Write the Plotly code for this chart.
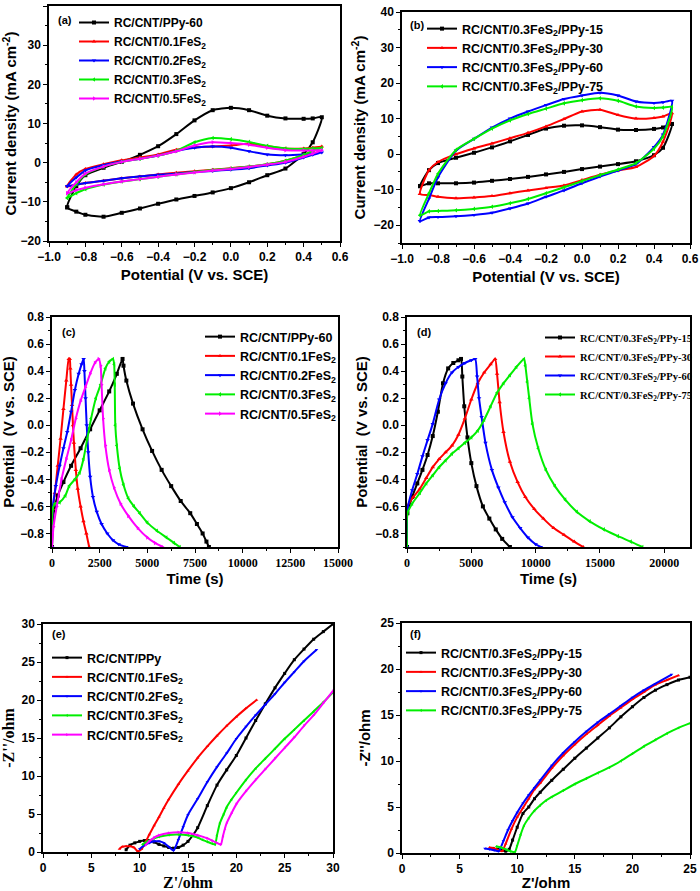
import plotly.graph_objects as go

# ---------------- data ----------------
# (a) CV, FeS2 content
cv_fwd = [-0.9, -0.85, -0.8, -0.7, -0.6, -0.5, -0.4, -0.3, -0.2, -0.1, 0.0, 0.1, 0.2, 0.3, 0.4, 0.45, 0.5]
cv_rev = [0.45, 0.4, 0.3, 0.2, 0.1, 0.0, -0.1, -0.2, -0.3, -0.4, -0.5, -0.6, -0.7, -0.8, -0.85, -0.9]
cv_pot = cv_fwd + cv_rev

a_names = ["RC/CNT/PPy-60", "RC/CNT/0.1FeS<sub>2</sub>", "RC/CNT/0.2FeS<sub>2</sub>",
           "RC/CNT/0.3FeS<sub>2</sub>", "RC/CNT/0.5FeS<sub>2</sub>"]
a_ppy60 = [-11.4, -6.0, -3.2, -1.3, 0.2, 2.0, 4.2, 7.3, 10.8, 13.4, 14.0, 13.4, 12.0, 11.3, 11.2, 11.3, 11.6,
           5.2, 2.2, -1.5, -3.2, -5.0, -6.5, -7.6, -8.5, -9.4, -10.5, -11.7, -12.8, -13.8, -13.3, -12.5, -11.4]
a_fes01 = [-6.0, -3.0, -1.6, -0.4, 0.6, 1.3, 2.1, 3.3, 3.9, 4.1, 4.4, 4.8, 4.2, 3.6, 3.6, 3.8, 4.1,
           3.0, 2.0, 0.5, -0.4, -1.0, -1.4, -1.8, -2.2, -2.6, -3.0, -3.5, -4.0, -4.6, -5.2, -5.6, -6.0]
a_fes02 = [-6.0, -3.8, -2.0, -0.6, 0.3, 1.0, 1.8, 3.0, 3.8, 4.1, 3.8, 2.9, 2.1, 1.9, 2.1, 2.3, 2.6,
           2.0, 1.3, 0.0, -0.7, -1.4, -1.8, -2.1, -2.4, -2.8, -3.1, -3.5, -4.0, -4.6, -5.2, -5.6, -6.0]
a_fes03 = [-9.0, -5.5, -3.0, -1.0, 0.2, 1.0, 1.8, 3.0, 5.2, 6.3, 6.0, 5.3, 4.3, 3.6, 3.5, 3.6, 3.8,
           3.0, 2.0, 0.5, -0.4, -1.0, -1.5, -1.9, -2.4, -3.0, -3.6, -4.2, -4.8, -5.6, -6.8, -7.8, -9.0]
a_fes05 = [-7.8, -5.0, -2.8, -1.0, 0.2, 1.0, 1.8, 2.9, 4.4, 5.2, 5.0, 4.6, 3.8, 3.2, 3.1, 3.1, 3.2,
           2.3, 1.5, 0.2, -0.5, -1.1, -1.6, -2.0, -2.5, -3.0, -3.6, -4.2, -4.8, -5.5, -6.4, -7.0, -7.8]

# (b) CV, PPy deposition time
b_names = ["RC/CNT/0.3FeS<sub>2</sub>/PPy-15", "RC/CNT/0.3FeS<sub>2</sub>/PPy-30",
           "RC/CNT/0.3FeS<sub>2</sub>/PPy-60", "RC/CNT/0.3FeS<sub>2</sub>/PPy-75"]
b_ppy15 = [-9.0, -4.5, -2.5, -1.0, 0.4, 1.9, 3.6, 5.4, 7.2, 8.0, 8.1, 7.6, 6.9, 6.8, 7.1, 7.5, 8.5,
           1.8, -0.3, -2.0, -2.8, -3.5, -4.2, -5.0, -5.7, -6.4, -7.0, -7.5, -8.0, -8.2, -8.2, -8.2, -9.0]
b_ppy30 = [-11.2, -4.5, -2.2, 0.0, 1.6, 3.0, 4.5, 6.0, 7.8, 9.9, 12.0, 12.5, 11.0, 10.0, 10.2, 10.6, 11.5,
           3.5, -0.5, -3.6, -4.6, -5.8, -7.3, -8.8, -9.5, -10.2, -11.0, -11.8, -12.2, -12.4, -12.0, -11.5, -11.2]
b_ppy60 = [-18.8, -12.5, -6.5, 1.0, 4.3, 7.5, 10.0, 12.0, 13.8, 15.5, 16.5, 17.3, 16.5, 14.8, 14.4, 14.6, 15.0,
           5.5, 2.0, -2.8, -4.6, -6.3, -8.2, -10.2, -12.0, -13.9, -15.3, -16.5, -17.1, -17.5, -17.7, -17.8, -18.8]
b_ppy75 = [-17.2, -11.0, -5.5, 1.2, 4.3, 7.2, 9.5, 11.3, 12.8, 14.3, 15.2, 15.7, 15.0, 13.4, 13.0, 13.1, 13.3,
           5.0, 1.5, -2.5, -4.3, -5.9, -7.6, -9.3, -11.0, -12.6, -13.8, -14.8, -15.4, -15.8, -16.0, -16.1, -17.2]

# (c) GCD, FeS2 content
c_names = ["RC/CNT/PPy-60", "RC/CNT/0.1FeS<sub>2</sub>", "RC/CNT/0.2FeS<sub>2</sub>",
           "RC/CNT/0.3FeS<sub>2</sub>", "RC/CNT/0.5FeS<sub>2</sub>"]
c_ppy60_t = [0, 50, 150, 300, 600, 1000, 1500, 2000, 2500, 3000, 3400, 3700, 3750, 3900, 4250, 4750, 5250, 5750,
             6250, 6750, 7250, 7600, 7900, 8100, 8230]
c_ppy60_v = [-0.9, -0.7, -0.6, -0.52, -0.42, -0.3, -0.17, -0.03, 0.11, 0.25, 0.38, 0.49, 0.44, 0.33, 0.16, -0.03,
             -0.19, -0.33, -0.45, -0.56, -0.65, -0.73, -0.8, -0.86, -0.9]
c_fes01_t = [0, 50, 150, 300, 450, 600, 750, 880, 930, 960, 1000, 1050, 1100, 1150, 1250, 1350, 1500, 1650, 1800, 1950]
c_fes01_v = [-0.9, -0.62, -0.5, -0.3, -0.1, 0.12, 0.33, 0.49, 0.49, 0.42, 0.3, 0.15, 0.0, -0.13, -0.33, -0.47,
             -0.6, -0.71, -0.8, -0.9]
c_fes02_t = [0, 50, 200, 400, 600, 800, 1000, 1200, 1400, 1550, 1660, 1700, 1760, 1820, 1900, 2000, 2150, 2350,
             2600, 2900, 3200, 3500, 3900]
c_fes02_v = [-0.9, -0.6, -0.45, -0.3, -0.17, -0.05, 0.1, 0.26, 0.38, 0.45, 0.49, 0.4, 0.2, 0.0, -0.2, -0.38,
             -0.53, -0.64, -0.73, -0.8, -0.85, -0.88, -0.9]
c_fes03_t = [0, 30, 150, 400, 700, 900, 1200, 1450, 1650, 1850, 2050, 2300, 2550, 2800, 3000, 3200, 3260, 3290,
             3320, 3400, 3550, 3750, 4000, 4300, 4600, 5000, 5500, 6000, 6400, 6700]
c_fes03_v = [-0.9, -0.62, -0.58, -0.57, -0.52, -0.45, -0.4, -0.35, -0.25, -0.1, 0.05, 0.2, 0.3, 0.42, 0.47, 0.49,
             0.45, 0.3, 0.0, -0.15, -0.32, -0.44, -0.54, -0.6, -0.65, -0.72, -0.78, -0.83, -0.87, -0.9]
c_fes05_t = [0, 80, 250, 500, 750, 1000, 1250, 1500, 1750, 2000, 2250, 2450, 2550, 2600, 2680, 2800, 3000, 3250,
             3600, 4000, 4500, 5000, 5400, 5800]
c_fes05_v = [-0.9, -0.75, -0.6, -0.4, -0.25, -0.11, 0.05, 0.18, 0.28, 0.38, 0.46, 0.49, 0.44, 0.3, 0.05, -0.15,
             -0.33, -0.46, -0.58, -0.67, -0.76, -0.83, -0.87, -0.9]

# (d) GCD, PPy deposition time
d_names = ["RC/CNT/0.3FeS<sub>2</sub>/PPy-15", "RC/CNT/0.3FeS<sub>2</sub>/PPy-30",
           "RC/CNT/0.3FeS<sub>2</sub>/PPy-60", "RC/CNT/0.3FeS<sub>2</sub>/PPy-75"]
d_ppy15_t = [0, 30, 400, 800, 1200, 1600, 2000, 2400, 2800, 3200, 3600, 4000, 4200, 4300, 4450, 4700, 5000, 5400,
             5900, 6400, 6900, 7400, 8000]
d_ppy15_v = [-0.9, -0.65, -0.53, -0.43, -0.33, -0.22, -0.08, 0.1, 0.31, 0.42, 0.46, 0.48, 0.49, 0.36, 0.14, -0.09,
             -0.28, -0.45, -0.6, -0.69, -0.77, -0.84, -0.9]
d_ppy30_t = [0, 30, 500, 1000, 1500, 2000, 2500, 3000, 3500, 4000, 4500, 5000, 5500, 6000, 6500, 6850, 7000, 7200,
             7500, 8000, 8600, 9200, 9900, 10600, 11400, 12200, 13000, 13700]
d_ppy30_v = [-0.9, -0.6, -0.53, -0.47, -0.39, -0.31, -0.25, -0.2, -0.15, -0.07, 0.05, 0.19, 0.31, 0.39, 0.45, 0.49,
             0.38, 0.17, -0.05, -0.27, -0.42, -0.53, -0.62, -0.69, -0.76, -0.81, -0.86, -0.9]
d_ppy60_t = [0, 30, 400, 800, 1200, 1600, 2000, 2500, 3000, 3500, 4000, 4500, 5000, 5300, 5450, 5600, 5800, 6100,
             6600, 7100, 7600, 8200, 8800, 9400, 10000, 10400]
d_ppy60_v = [-0.9, -0.62, -0.48, -0.36, -0.23, -0.11, 0.01, 0.19, 0.31, 0.39, 0.43, 0.46, 0.48, 0.49, 0.36, 0.2,
             0.06, -0.13, -0.33, -0.46, -0.57, -0.68, -0.76, -0.83, -0.88, -0.9]
d_ppy75_t = [0, 30, 400, 1000, 1500, 2000, 2500, 3000, 3500, 4000, 4500, 5000, 5500, 6000, 6500, 7000, 7500, 8000,
             8500, 9100, 9200, 9350, 9500, 9750, 10200, 10800, 11500, 12300, 13200, 14200, 15300, 16400, 17400, 18300]
d_ppy75_v = [-0.9, -0.65, -0.58, -0.5, -0.43, -0.37, -0.31, -0.26, -0.21, -0.17, -0.13, -0.09, -0.04, 0.04, 0.14,
             0.24, 0.31, 0.37, 0.43, 0.49, 0.44, 0.32, 0.2, 0.01, -0.17, -0.33, -0.45, -0.55, -0.64, -0.71, -0.77,
             -0.82, -0.86, -0.9]

# (e) Nyquist, FeS2 content
e_names = ["RC/CNT/PPy", "RC/CNT/0.1FeS<sub>2</sub>", "RC/CNT/0.2FeS<sub>2</sub>",
           "RC/CNT/0.3FeS<sub>2</sub>", "RC/CNT/0.5FeS<sub>2</sub>"]
e_ppy_re = [8.6, 9.0, 9.5, 10.0, 10.5, 11.0, 11.5, 12.0, 12.5, 13.0, 13.5, 14.0, 14.5, 15.0, 15.5, 16.0, 17.0, 18.0,
            19.0, 20.0, 21.0, 22.0, 23.0, 24.0, 25.0, 26.0, 27.0, 28.0, 29.0, 30.0]
e_ppy_im = [0.3, 0.9, 1.2, 1.4, 1.5, 1.5, 1.3, 1.0, 0.8, 0.6, 0.5, 0.6, 0.9, 1.4, 2.2, 3.2, 6.1, 8.8, 10.8, 12.7,
            15.0, 17.3, 19.5, 21.6, 23.5, 25.3, 26.7, 28.0, 29.0, 30.0]
e_fes01_re = [7.9, 8.2, 8.6, 9.0, 9.4, 9.8, 10.2, 10.6, 11.0, 11.5, 12.0, 12.5, 13.0, 14.0, 15.0, 16.0, 17.0, 18.0,
              19.0, 20.0, 21.0, 22.1]
e_fes01_im = [0.4, 0.7, 0.75, 0.75, 0.6, 0.1, 0.4, 1.3, 2.3, 3.5, 4.6, 5.8, 6.9, 8.9, 10.7, 12.4, 13.9, 15.3, 16.6,
              17.8, 18.9, 20.0]
e_fes02_re = [10.0, 10.5, 11.0, 11.5, 12.0, 12.5, 13.0, 13.5, 14.0, 14.5, 15.0, 16.0, 17.0, 18.0, 19.0, 20.0, 21.0,
              22.0, 23.0, 24.0, 25.0, 26.0, 27.0, 28.3]
e_fes02_im = [0.4, 0.9, 1.2, 1.4, 1.4, 1.2, 0.7, 0.2, 1.6, 3.3, 4.9, 7.0, 9.2, 11.2, 13.0, 14.9, 16.5, 18.0, 19.4,
              20.8, 22.3, 23.7, 25.1, 26.6]
e_fes03_re = [10.3, 10.8, 11.5, 12.0, 13.0, 14.0, 15.0, 16.0, 16.5, 17.0, 17.5, 17.8, 18.0, 18.3, 18.7, 19.0, 19.5,
              20.0, 21.0, 22.0, 23.0, 24.0, 25.0, 26.0, 27.0, 28.0, 29.0, 30.0]
e_fes03_im = [1.0, 1.4, 1.8, 2.0, 2.25, 2.3, 2.2, 1.9, 1.6, 1.35, 1.1, 1.0, 2.2, 3.8, 5.0, 5.9, 6.9, 7.8, 9.5, 11.0,
              12.3, 13.6, 14.9, 16.1, 17.3, 18.5, 19.7, 21.0]
e_fes05_re = [10.6, 11.0, 11.5, 12.0, 13.0, 14.0, 15.0, 16.0, 17.0, 17.5, 18.0, 18.4, 18.6, 18.8, 19.0, 19.5, 20.0,
              21.0, 22.0, 23.0, 24.0, 25.0, 26.0, 27.0, 28.0, 29.0, 30.0]
e_fes05_im = [0.9, 1.4, 1.9, 2.2, 2.5, 2.6, 2.5, 2.2, 1.8, 1.5, 1.2, 1.0, 2.0, 3.0, 3.8, 5.1, 6.3, 8.0, 9.5, 10.9,
              12.3, 13.7, 15.1, 16.6, 18.0, 19.6, 21.2]

# (f) Nyquist, PPy deposition time
f_names = ["RC/CNT/0.3FeS<sub>2</sub>/PPy-15", "RC/CNT/0.3FeS<sub>2</sub>/PPy-30",
           "RC/CNT/0.3FeS<sub>2</sub>/PPy-60", "RC/CNT/0.3FeS<sub>2</sub>/PPy-75"]
f_ppy15_re = [7.9, 8.3, 8.7, 9.0, 9.3, 9.6, 10.0, 10.5, 11.0, 11.5, 12.0, 13.0, 14.0, 15.0, 16.0, 17.0, 18.0, 19.0,
              20.0, 21.0, 22.0, 23.0, 24.0, 25.0]
f_ppy15_im = [0.5, 0.4, 0.3, 0.2, 0.4, 1.4, 2.8, 4.3, 5.0, 5.9, 6.6, 7.9, 9.1, 10.3, 11.4, 12.5, 13.6, 14.8, 15.9,
              16.9, 17.7, 18.3, 18.8, 19.1]
f_ppy30_re = [7.6, 8.0, 8.4, 8.7, 9.0, 9.5, 10.0, 10.5, 11.0, 11.5, 12.0, 13.0, 14.0, 15.0, 16.0, 17.0, 18.0, 19.0,
              20.0, 21.0, 22.0, 23.0, 24.0]
f_ppy30_im = [0.6, 0.5, 0.3, 0.2, 1.0, 2.6, 3.9, 4.9, 5.9, 6.9, 7.6, 9.2, 10.6, 11.8, 12.9, 13.9, 14.9, 15.8, 16.7,
              17.5, 18.3, 18.8, 19.3]
f_ppy60_re = [7.2, 7.6, 8.0, 8.4, 8.8, 9.2, 9.6, 10.0, 10.5, 11.0, 11.5, 12.0, 13.0, 14.0, 15.0, 16.0, 17.0, 18.0,
              19.0, 20.0, 21.0, 22.0, 23.4]
f_ppy60_im = [0.5, 0.4, 0.3, 0.2, 1.3, 2.5, 3.5, 4.4, 5.4, 6.3, 7.1, 7.9, 9.5, 10.9, 12.1, 13.2, 14.2, 15.1, 16.0,
              16.9, 17.7, 18.4, 19.4]
f_ppy75_re = [8.2, 8.6, 9.0, 9.4, 9.8, 10.0, 10.3, 10.6, 11.0, 11.5, 12.0, 12.5, 13.0, 14.0, 15.0, 16.0, 17.0, 18.0,
              19.0, 20.0, 21.0, 22.0, 23.0, 24.0, 25.0]
f_ppy75_im = [0.7, 0.6, 0.4, 0.2, 0.1, 0.8, 2.0, 3.0, 3.8, 4.6, 5.2, 5.7, 6.1, 6.8, 7.5, 8.1, 8.7, 9.3, 10.0, 10.8,
              11.6, 12.3, 13.0, 13.6, 14.1]

# ---------------- style ----------------
BLACK, RED, BLUE, GREEN, MAG = "#000000", "#ff0000", "#0000ff", "#00ee00", "#ff00ff"
SYM = ["square", "triangle-up", "triangle-down", "triangle-left", "triangle-right"]
SANS = "Liberation Sans, Arial, sans-serif"
SERIF = "Liberation Serif, Times New Roman, serif"

fig = go.Figure()


def add(xs, ys, name, color, sym, axis_id, legend_id, msize=4):
    xa = "x" if axis_id == 1 else f"x{axis_id}"
    ya = "y" if axis_id == 1 else f"y{axis_id}"
    fig.add_trace(go.Scatter(
        x=xs, y=ys, name=name, mode="lines+markers",
        line=dict(color=color, width=2, shape="spline", smoothing=0.6),
        marker=dict(symbol=sym, size=msize, color=color),
        xaxis=xa, yaxis=ya, legend=legend_id))


cols5 = [BLACK, RED, BLUE, GREEN, MAG]
cols4 = [BLACK, RED, BLUE, GREEN]

for ys, n, c, s in zip([a_ppy60, a_fes01, a_fes02, a_fes03, a_fes05], a_names, cols5, SYM):
    add(cv_pot, ys, n, c, s, 1, "legend")
for ys, n, c, s in zip([b_ppy15, b_ppy30, b_ppy60, b_ppy75], b_names, cols4, SYM):
    add(cv_pot, ys, n, c, s, 2, "legend2")
for (xs, ys), n, c, s in zip([(c_ppy60_t, c_ppy60_v), (c_fes01_t, c_fes01_v), (c_fes02_t, c_fes02_v),
                              (c_fes03_t, c_fes03_v), (c_fes05_t, c_fes05_v)], c_names, cols5, SYM):
    add(xs, ys, n, c, s, 3, "legend3")
for (xs, ys), n, c, s in zip([(d_ppy15_t, d_ppy15_v), (d_ppy30_t, d_ppy30_v), (d_ppy60_t, d_ppy60_v),
                              (d_ppy75_t, d_ppy75_v)], d_names, cols4, SYM):
    add(xs, ys, n, c, s, 4, "legend4")
for (xs, ys), n, c, s in zip([(e_ppy_re, e_ppy_im), (e_fes01_re, e_fes01_im), (e_fes02_re, e_fes02_im),
                              (e_fes03_re, e_fes03_im), (e_fes05_re, e_fes05_im)], e_names, cols5, SYM):
    add(xs, ys, n, c, s, 5, "legend5", 3)
for (xs, ys), n, c, s in zip([(f_ppy15_re, f_ppy15_im), (f_ppy30_re, f_ppy30_im), (f_ppy60_re, f_ppy60_im),
                              (f_ppy75_re, f_ppy75_im)], f_names, cols4, SYM):
    add(xs, ys, n, c, s, 6, "legend6", 3)


def axis(domain, rng, dtick, minor, title, tfont, ffont, tsize=15, standoff=6, fmt=None, tickvals=None):
    d = dict(domain=domain, range=rng, dtick=dtick, showline=True, linecolor="black", linewidth=1.5,
             mirror=True, ticks="outside", ticklen=4, tickwidth=1.2, tickcolor="black",
             showgrid=False, zeroline=False, automargin=False,
             minor=dict(ticks="outside", ticklen=2, tickwidth=1, tickcolor="black", dtick=minor),
             tickfont=dict(family=tfont, size=12, color="black", weight="bold"),
             title=dict(text=title, font=dict(family=ffont, size=tsize, color="black", weight="bold"),
                        standoff=standoff))
    if fmt:
        d["tickformat"] = fmt
    if tickvals is not None:
        d["tickvals"] = tickvals
        d.pop("dtick")
    return d


W, H = 700, 891


def dx(p0, p1):
    return [p0 / W, p1 / W]


def dy(top, bot):
    return [1 - bot / H, 1 - top / H]


cd_title = "Current density (mA cm<sup>-2</sup>)"
pot_title = "Potential (V vs. SCE)"
layout = dict(
    width=W, height=H, margin=dict(l=0, r=0, t=0, b=0, autoexpand=False),
    paper_bgcolor="white", plot_bgcolor="white", showlegend=True,
    xaxis=axis(dx(49, 340), [-1.0, 0.6], 0.2, 0.1, pot_title, SANS, SANS, fmt=".1f"),
    yaxis=axis(dy(6, 241), [-20, 40], 10, 5, cd_title, SANS, SANS, standoff=4),
    xaxis2=axis(dx(402, 690), [-1.0, 0.6], 0.2, 0.1, pot_title, SANS, SANS, fmt=".1f"),
    yaxis2=axis(dy(12, 243), [-25, 40], 10, 5, cd_title, SANS, SANS, standoff=4,
                tickvals=[-20, -10, 0, 10, 20, 30, 40]),
    xaxis3=axis(dx(52, 338), [0, 15000], 2500, 1250, "Time (s)", SERIF, SANS, standoff=4, fmt="d"),
    yaxis3=axis(dy(317, 547), [-0.9, 0.8], 0.2, 0.1, "Potential  (V vs. SCE)", SANS, SANS, fmt=".1f",
                standoff=4, tickvals=[-0.8, -0.6, -0.4, -0.2, 0.0, 0.2, 0.4, 0.6, 0.8]),
    xaxis4=axis(dx(407, 690), [0, 22000], 5000, 2500, "Time (s)", SERIF, SANS, standoff=4, fmt="d"),
    yaxis4=axis(dy(317, 547), [-0.9, 0.8], 0.2, 0.1, "Potential  (V vs. SCE)", SANS, SANS, fmt=".1f",
                standoff=4, tickvals=[-0.8, -0.6, -0.4, -0.2, 0.0, 0.2, 0.4, 0.6, 0.8]),
    xaxis5=axis(dx(43, 333), [0, 30], 5, 2.5, "Z'/ohm", SANS, SERIF, tsize=16, standoff=2),
    yaxis5=axis(dy(624, 852), [0, 30], 5, 2.5, "-Z''/ohm", SANS, SERIF, tsize=16, standoff=6),
    xaxis6=axis(dx(402, 690), [0, 25], 5, 2.5, "Z'/ohm", SANS, SANS, standoff=2),
    yaxis6=axis(dy(623, 853), [0, 25], 5, 2.5, "-Z''/ohm", SANS, SANS, standoff=6),
)
for i in range(1, 7):
    sfx = "" if i == 1 else str(i)
    layout[f"xaxis{sfx}"]["anchor"] = f"y{sfx}"
    layout[f"yaxis{sfx}"]["anchor"] = f"x{sfx}"


def leg(x_px, y_px, fam, size, gap=0):
    return dict(x=x_px / W, y=1 - y_px / H, xanchor="left", yanchor="top",
                bgcolor="rgba(0,0,0,0)", borderwidth=0, tracegroupgap=gap,
                font=dict(family=fam, size=size, color="black", weight="bold"),
                itemwidth=30)


layout["legend"] = leg(74, 8, SANS, 12)
layout["legend2"] = leg(422, 14, SANS, 12.5)
layout["legend3"] = leg(200, 322, SANS, 12.5)
layout["legend4"] = leg(540, 323, SERIF, 10.5)
layout["legend5"] = leg(47, 643, SANS, 12.5)
layout["legend6"] = leg(401, 638, SANS, 12.5)

fig.update_layout(**layout)

labels = [("(a)", 56, 20), ("(b)", 408, 25), ("(c)", 60, 332), ("(d)", 415, 332), ("(e)", 50, 634),
          ("(f)", 408, 634)]
for t, xp, yp in labels:
    fig.add_annotation(text=t, x=xp / W, y=1 - yp / H, xref="paper", yref="paper", showarrow=False,
                       xanchor="left", yanchor="middle",
                       font=dict(family=SANS, size=11, color="black", weight="bold"))

fig.write_html("out.html", config={"displayModeBar": False},
               post_script="document.body.style.margin='0px';document.body.style.overflow='hidden';")
